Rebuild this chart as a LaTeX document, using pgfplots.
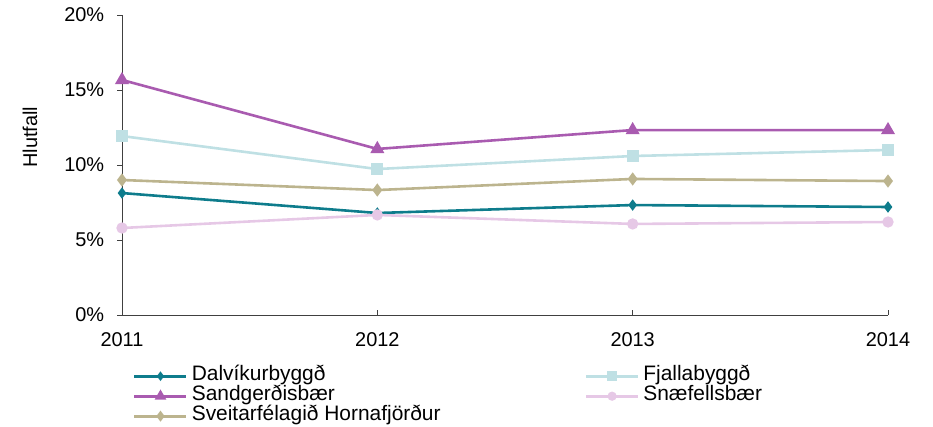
\documentclass[border=0pt]{standalone}
\usepackage{fontspec}
\setmainfont{Liberation Sans}
\usepackage{pgfplots}
\pgfplotsset{compat=1.18}
\definecolor{cDal}{HTML}{0E7C8C}
\definecolor{cFja}{HTML}{BFE0E4}
\definecolor{cSan}{HTML}{A95BB0}
\definecolor{cSna}{HTML}{E6C8E6}
\definecolor{cHor}{HTML}{BCB48E}
\begin{document}
\begin{tikzpicture}
\fontsize{20}{24}\selectfont
\begin{axis}[
  scale only axis,
  width=766bp, height=300bp,
  xmin=2011, xmax=2014, ymin=0, ymax=20,
  axis x line=bottom, axis y line=left,
  axis line style={-, black!75, line width=0.9bp},
  xtick={2011,2012,2013,2014},
  xticklabels={2011,2012,2013,2014},
  ytick={0,5,10,15,20},
  yticklabel={\pgfmathprintnumber{\tick}\%},
  /pgf/number format/assume math mode=true,
  tick style={black!75, line width=0.9bp},
  major tick length=5bp,
  xtick align=inside,
  ytick align=outside,
  tick label style={font=\fontsize{20}{24}\selectfont},
  xticklabel style={yshift=-11bp},
  yticklabel style={xshift=-6bp},
  ylabel={Hlutfall},
  ylabel style={font=\fontsize{20}{24}\selectfont, at={(axis description cs:-0.1201,0.593)}, anchor=center, rotate=0},
  every axis plot/.append style={line width=2.6bp},
  legend columns=2,
  legend cell align=left,
  legend style={at={(0,0)}, anchor=north west, xshift=11bp, yshift=-51bp, draw=none, fill=none, inner sep=0pt, row sep=0pt,
    font=\fontsize{21}{24}\selectfont,
    nodes={inner xsep=4bp, inner ysep=0pt, text height=14bp, text depth=6bp}},
  legend image code/.code={%
    \draw[mark repeat=2, mark phase=2, mark options={scale=0.75}] plot coordinates {(0bp,0bp) (26bp,0bp) (52bp,0bp)};},
]
\addplot[color=cDal, mark=diamond*, mark size=3.6bp, mark options={solid}] coordinates {(2011,8.13) (2012,6.8) (2013,7.33) (2014,7.2)};
\addlegendentry{\makebox[389bp][l]{Dalvíkurbyggð}}
\addplot[color=cFja, mark=square*, mark size=4.6bp] coordinates {(2011,11.93) (2012,9.73) (2013,10.6) (2014,11.0)};
\addlegendentry{Fjallabyggð}
\addplot[color=cSan, mark=triangle*, mark size=5.5bp] coordinates {(2011,15.67) (2012,11.07) (2013,12.33) (2014,12.33)};
\addlegendentry{\makebox[389bp][l]{Sandgerðisbær}}
\addplot[color=cSna, mark=*, mark size=4.3bp] coordinates {(2011,5.8) (2012,6.67) (2013,6.07) (2014,6.2)};
\addlegendentry{Snæfellsbær}
\addplot[color=cHor, mark=diamond*, mark size=4.5bp] coordinates {(2011,9.0) (2012,8.33) (2013,9.07) (2014,8.93)};
\addlegendentry{\makebox[389bp][l]{Sveitarfélagið Hornafjörður}}
\end{axis}
\path (current axis.south west) ++(-122bp,-112bp) coordinate (bbA);
\path (current axis.north east) ++(45bp,15bp) coordinate (bbB);
\path (bbA) rectangle (bbB);
\end{tikzpicture}
\end{document}
